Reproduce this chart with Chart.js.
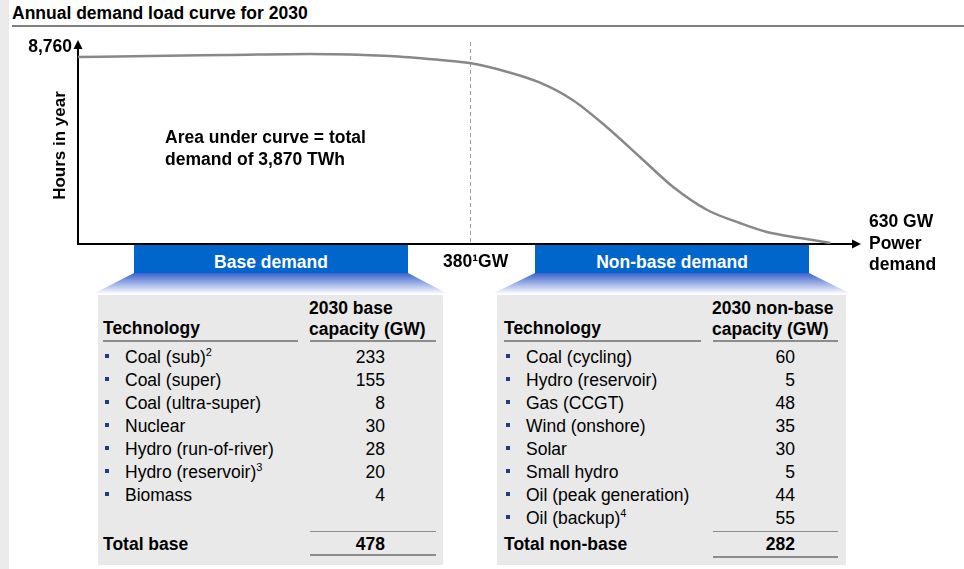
<!DOCTYPE html>
<html>
<head>
<meta charset="utf-8">
<script src="https://cdn.jsdelivr.net/npm/chart.js@4.4.1/dist/chart.umd.min.js"></script>
<style>
  body {
    margin: 0;
    width: 964px;
    height: 569px;
    position: relative;
    overflow: hidden;
    background: #fff;
    font-family: "Liberation Sans", Arial, sans-serif;
    color: #000;
  }
  .abs { position: absolute; white-space: nowrap; }
  .bold { font-weight: bold; }
  .txt { font-size: 17.5px; }
  .strip { left: 0; top: 0; width: 9px; height: 569px; background: #ebebeb; }
  .title { left: 12px; top: 3px; font-size: 17.5px; font-weight: bold; }
  .rule { left: 12px; top: 25px; width: 952px; height: 2px; background: #808080; }
  .banner { top: 245px; height: 28px; background: #0066cc; color: #fff; font-weight: bold;
            font-size: 17.5px; text-align: center; line-height: 34px; }
  .fade { top: 273px; height: 21px; background: linear-gradient(#3b62cc, #ffffff); }
  .box { top: 295px; height: 270px; background: #e9e9e9; }
  .line { height: 2px; background: #8c8c8c; }
  .bullet { width: 4px; height: 4px; background: #1f3d7a; }
  sup { font-size: 11px; vertical-align: 7px; line-height: 0; }
</style>
</head>
<body>
<div class="abs strip"></div>
<div class="abs title">Annual demand load curve for 2030</div>
<div class="abs rule"></div>
<canvas id="loadChart" width="964" height="290" style="position:absolute;left:0;top:0"></canvas>
<div id="overlay"></div>

<script>
"use strict";

// Load curve (schematic): position along the power axis (% of axis) vs hours in year
const curvePosition = [0, 9.3, 19.6, 30.0, 40.3, 46.8, 50.6, 55.4, 59.7, 63.9, 68.3, 72.6, 76.9, 81.3, 85.5, 89.0, 93.3, 97.2];
const curveHours = [8315, 8360, 8404, 8449, 8360, 8182, 8048, 7662, 7173, 6403, 5203, 3869, 2535, 1512, 934, 534, 267, 44];
const hoursInYear = 8760;
const dividerPos = 50.6; // 380 GW split between base and non-base
const dividerLabel = "380\u00b9GW";

// Base demand table
const baseTech = ["Coal (sub)", "Coal (super)", "Coal (ultra-super)", "Nuclear", "Hydro (run-of-river)", "Hydro (reservoir)", "Biomass"];
const baseNotes = ["2", "", "", "", "", "3", ""];
const baseCapacity = [233, 155, 8, 30, 28, 20, 4];
const baseTotal = 478;

// Non-base demand table
const nonBaseTech = ["Coal (cycling)", "Hydro (reservoir)", "Gas (CCGT)", "Wind (onshore)", "Solar", "Small hydro", "Oil (peak generation)", "Oil (backup)"];
const nonBaseNotes = ["", "", "", "", "", "", "", "4"];
const nonBaseCapacity = [60, 5, 48, 35, 30, 5, 44, 55];
const nonBaseTotal = 282;

const FONT = '"Liberation Sans", Arial, sans-serif';

// Arrow heads and the dashed split line
const decorations = {
  id: "decorations",
  beforeDatasetsDraw(chart) {
    const { ctx, chartArea: a, scales: { x } } = chart;
    const xd = Math.round(x.getPixelForValue(dividerPos)) + 0.5;
    ctx.save();
    ctx.strokeStyle = "#9a9a9a";
    ctx.lineWidth = 1;
    ctx.setLineDash([4, 3]);
    ctx.beginPath();
    ctx.moveTo(xd, a.top - 5);
    ctx.lineTo(xd, a.bottom - 2);
    ctx.stroke();
    ctx.restore();
  },
  afterDraw(chart) {
    const { ctx, chartArea: a } = chart;
    ctx.save();
    ctx.fillStyle = "#000";
    ctx.beginPath();
    ctx.moveTo(a.left, a.top - 7);
    ctx.lineTo(a.left - 4.5, a.top + 2);
    ctx.lineTo(a.left + 4.5, a.top + 2);
    ctx.closePath();
    ctx.fill();
    ctx.beginPath();
    ctx.moveTo(a.right + 9, a.bottom);
    ctx.lineTo(a.right, a.bottom - 4.5);
    ctx.lineTo(a.right, a.bottom + 4.5);
    ctx.closePath();
    ctx.fill();
    ctx.restore();
  },
};

new Chart(document.getElementById("loadChart").getContext("2d"), {
  type: "line",
  data: {
    datasets: [
      {
        data: curvePosition.map((p, i) => ({ x: p, y: curveHours[i] })),
        borderColor: "#888888",
        borderWidth: 2.5,
        pointRadius: 0,
        cubicInterpolationMode: "monotone",
        fill: false,
      },
    ],
  },
  options: {
    responsive: false,
    animation: false,
    layout: { padding: { left: 0, top: 47, right: 112, bottom: 10 } },
    plugins: { legend: { display: false }, tooltip: { enabled: false } },
    scales: {
      x: {
        type: "linear",
        min: 0,
        max: 100,
        grid: { display: false, drawTicks: false },
        border: { color: "#000", width: 2 },
        afterBuildTicks: (scale) => { scale.ticks = [{ value: dividerPos }]; },
        afterFit: (scale) => { scale.height = 36; },
        ticks: {
          maxRotation: 0,
          padding: 8,
          labelOffset: 6,
          color: "#000",
          font: { family: FONT, size: 17.5, weight: "bold" },
          callback: () => dividerLabel,
        },
      },
      y: {
        min: 0,
        max: hoursInYear,
        grid: { display: false, drawTicks: false },
        border: { color: "#000", width: 2 },
        afterBuildTicks: (scale) => { scale.ticks = [{ value: hoursInYear }]; },
        afterFit: (scale) => { scale.width = 78; },
        ticks: {
          padding: 6,
          color: "#000",
          font: { family: FONT, size: 17.5, weight: "bold" },
          callback: (v) => v.toLocaleString("en-US"),
        },
        title: {
          display: true,
          text: "Hours in year",
          color: "#000",
          font: { family: FONT, size: 17, weight: "bold" },
          padding: { top: 50 },
        },
      },
    },
  },
  plugins: [decorations],
});

// HTML overlay: annotations, banners and tables
const overlay = document.getElementById("overlay");
function put(cls, style, html) {
  const d = document.createElement("div");
  d.className = "abs " + cls;
  Object.assign(d.style, style);
  if (html !== undefined) d.innerHTML = html;
  overlay.appendChild(d);
  return d;
}

put("txt bold", { left: "165px", top: "126px", lineHeight: "22px" }, "Area under curve = total<br>demand of 3,870 TWh");
put("txt bold", { left: "869px", top: "211px", lineHeight: "21.5px" }, "630 GW<br>Power<br>demand");

function buildSection(cfg) {
  put("banner", { left: cfg.bannerLeft + "px", width: cfg.bannerWidth + "px" }, cfg.bannerText);
  const fade = put("fade", { left: cfg.boxLeft - 5 + "px", width: cfg.boxWidth + 10 + "px" });
  const l = cfg.bannerLeft - cfg.boxLeft + 5;
  const r = l + cfg.bannerWidth;
  fade.style.clipPath = `polygon(${l}px 0, ${r}px 0, 100% 100%, 0 100%)`;
  put("box", { left: cfg.boxLeft + "px", width: cfg.boxWidth + "px" });

  put("txt bold", { left: cfg.textLeft + "px", top: "316px", lineHeight: "24px" }, "Technology");
  put("txt bold", { left: cfg.capLeft + "px", top: "298px", lineHeight: "21px" }, cfg.header);
  put("line", { left: cfg.textLeft + "px", top: "340px", width: cfg.techLineWidth + "px" });
  put("line", { left: cfg.capLeft + 1 + "px", top: "340px", width: cfg.capLineWidth + "px" });

  cfg.techs.forEach((t, i) => {
    const cy = 357 + i * 23;
    put("bullet", { left: cfg.textLeft + 2 + "px", top: cy - 3 + "px" });
    const note = cfg.notes[i] ? `<sup>${cfg.notes[i]}</sup>` : "";
    put("txt", { left: cfg.textLeft + 22 + "px", top: cy - 12 + "px", lineHeight: "24px" }, t + note);
    put("txt", { left: cfg.valueRight - 80 + "px", width: "80px", textAlign: "right", top: cy - 12 + "px", lineHeight: "24px" }, String(cfg.values[i]));
  });

  put("line", { left: cfg.capLeft + 1 + "px", top: "531px", width: cfg.capLineWidth + "px", height: "1px" });
  put("txt bold", { left: cfg.textLeft + "px", top: "532px", lineHeight: "24px" }, cfg.totalLabel);
  put("txt bold", { left: cfg.valueRight - 80 + "px", width: "80px", textAlign: "right", top: "532px", lineHeight: "24px" }, String(cfg.total));
  put("line", { left: cfg.capLeft + 1 + "px", top: cfg.bottomLine + "px", width: cfg.capLineWidth + "px" });
}

buildSection({
  bannerLeft: 134, bannerWidth: 274, bannerText: "Base demand",
  boxLeft: 98, boxWidth: 345,
  textLeft: 103, capLeft: 309, techLineWidth: 195, capLineWidth: 126,
  header: "2030 base<br>capacity (GW)",
  techs: baseTech, notes: baseNotes, values: baseCapacity,
  valueRight: 385, totalLabel: "Total base", total: baseTotal, bottomLine: 554,
});

buildSection({
  bannerLeft: 535, bannerWidth: 274, bannerText: "Non-base demand",
  boxLeft: 497, boxWidth: 349,
  textLeft: 504, capLeft: 712, techLineWidth: 197, capLineWidth: 125,
  header: "2030 non-base<br>capacity (GW)",
  techs: nonBaseTech, notes: nonBaseNotes, values: nonBaseCapacity,
  valueRight: 795, totalLabel: "Total non-base", total: nonBaseTotal, bottomLine: 556,
});
</script>
</body>
</html>
